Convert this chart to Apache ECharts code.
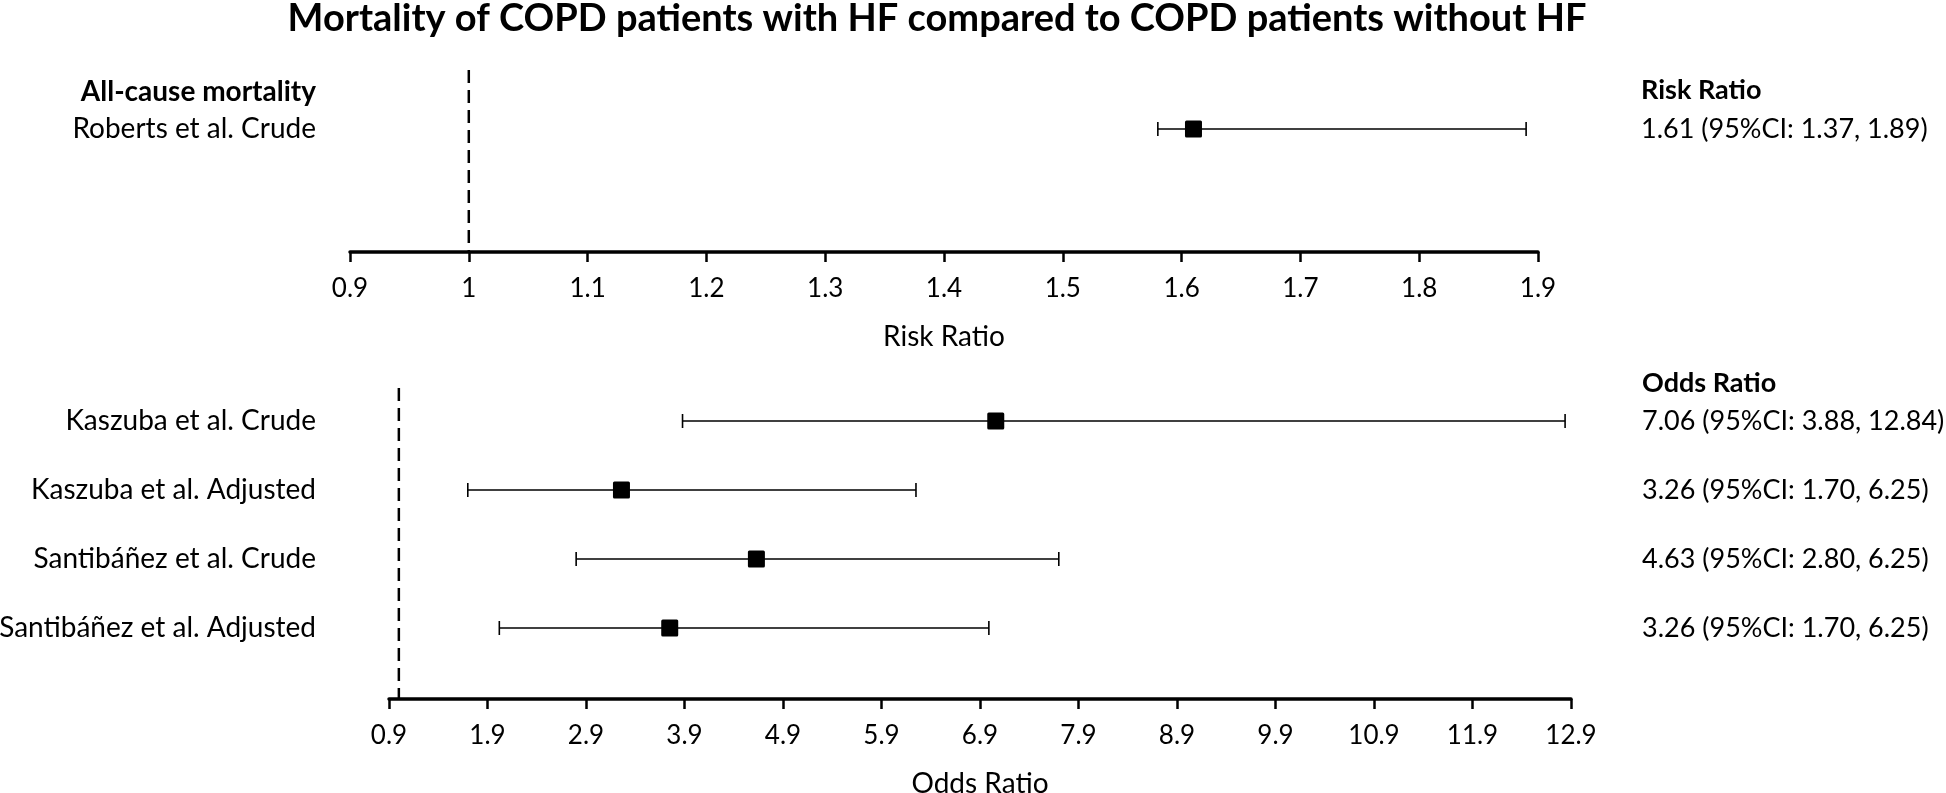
<!DOCTYPE html>
<html><head><meta charset="utf-8">
<script src="https://cdn.jsdelivr.net/npm/echarts@6/dist/echarts.min.js"></script>
<style>html,body{margin:0;padding:0;background:#fff}#c{width:1946px;height:793px}</style>
</head><body><div id="c"></div>
<script>
// ---------- data ----------
const titleText = 'Mortality of COPD patients with HF compared to COPD patients without HF';
const refLine = 1;

// Top panel (risk ratio)
const rrHeaderLeft = 'All-cause mortality';
const rrHeaderRight = 'Risk Ratio';
const rrStudies = ['Roberts et al. Crude'];
const rrEstimate = [1.61];
const rrLower = [1.58];
const rrUpper = [1.89];
const rrLabels = ['1.61 (95%CI: 1.37, 1.89)'];
const rrTicks = [0.9, 1, 1.1, 1.2, 1.3, 1.4, 1.5, 1.6, 1.7, 1.8, 1.9];
const rrAxisName = 'Risk Ratio';

// Bottom panel (odds ratio)
const orHeaderRight = 'Odds Ratio';
const orStudies = ['Kaszuba et al. Crude', 'Kaszuba et al. Adjusted', 'Santibáñez et al. Crude', 'Santibáñez et al. Adjusted'];
const orEstimate = [7.06, 3.26, 4.63, 3.75];
const orLower = [3.88, 1.70, 2.80, 2.02];
const orUpper = [12.84, 6.25, 7.70, 6.99];
const orLabels = ['7.06 (95%CI: 3.88, 12.84)', '3.26 (95%CI: 1.70, 6.25)', '4.63 (95%CI: 2.80, 6.25)', '3.26 (95%CI: 1.70, 6.25)'];
const orTicks = [0.9, 1.9, 2.9, 3.9, 4.9, 5.9, 6.9, 7.9, 8.9, 9.9, 10.9, 11.9, 12.9];
const orAxisName = 'Odds Ratio';

// ---------- layout ----------
const FONT = 'Lato';
const FS_ROW = 28, FS_VAL = 27, FS_TICK = 26, FS_NAME = 28;
const rowPx = 69;
const g0 = {left: 350, top: 70, width: 1188, height: 182, firstRow: 59};
const g1 = {left: 389, top: 388, width: 1182, height: 311, firstRow: 33};
const yMin0 = -g0.firstRow / rowPx, yMax0 = (g0.height - g0.firstRow) / rowPx;
const yMin1 = -g1.firstRow / rowPx, yMax1 = (g1.height - g1.firstRow) / rowPx;

function rows(est, lo, hi) { return est.map((e, i) => [e, lo[i], hi[i], i]); }

function renderForest(params, api) {
  const r = api.value(3);
  const pE = api.coord([api.value(0), r]);
  const pL = api.coord([api.value(1), r]);
  const pH = api.coord([api.value(2), r]);
  const cap = 7, h = 8.5;
  const st = {stroke: '#000', lineWidth: 1.6};
  return {type: 'group', children: [
    {type: 'line', shape: {x1: pL[0], y1: pL[1], x2: pH[0], y2: pH[1]}, style: st},
    {type: 'line', shape: {x1: pL[0], y1: pL[1] - cap, x2: pL[0], y2: pL[1] + cap}, style: st},
    {type: 'line', shape: {x1: pH[0], y1: pH[1] - cap, x2: pH[0], y2: pH[1] + cap}, style: st},
    {type: 'rect', shape: {x: pE[0] - h, y: pE[1] - h, width: 2 * h, height: 2 * h, r: 1.5}, style: {fill: '#000'}}
  ]};
}

function xAxisCfg(gi, min, max, ticks, name) {
  return {
    type: 'value', gridIndex: gi, min: min, max: max,
    splitLine: {show: false},
    axisLine: {show: true, onZero: false, lineStyle: {color: '#000', width: 3.5}},
    axisTick: {show: true, customValues: ticks, length: 10, lineStyle: {color: '#000', width: 2.5}},
    axisLabel: {customValues: ticks, margin: 24, fontSize: FS_TICK, color: '#000', fontFamily: FONT},
    name: name, nameLocation: 'middle', nameGap: 71,
    nameTextStyle: {fontSize: FS_NAME, color: '#000', fontFamily: FONT}
  };
}
function yAxisCfg(gi, min, max, pos, labels, margin, fs) {
  return {
    type: 'value', gridIndex: gi, min: min, max: max, inverse: true, position: pos,
    splitLine: {show: false}, axisLine: {show: false}, axisTick: {show: false},
    axisLabel: {
      customValues: labels.map((_, i) => i), margin: margin,
      fontSize: fs, color: '#000', fontFamily: FONT,
      formatter: v => labels[Math.round(v)] || ''
    }
  };
}

const headerStyle = {fontSize: 27, fontWeight: 'bold', fill: '#000', fontFamily: FONT, textVerticalAlign: 'middle'};

const option = {
  animation: false,
  backgroundColor: '#fff',
  graphic: [
    {type: 'text', x: 937, y: 19, style: {text: titleText, fontSize: 38, fontWeight: 'bold', fill: '#000', fontFamily: FONT, textAlign: 'center', textVerticalAlign: 'middle'}},
    {type: 'text', x: 316, y: 92, style: Object.assign({text: rrHeaderLeft, textAlign: 'right'}, headerStyle, {fontSize: 28})},
    {type: 'text', x: 1641, y: 90, style: Object.assign({text: rrHeaderRight, textAlign: 'left'}, headerStyle)},
    {type: 'text', x: 1642, y: 383, style: Object.assign({text: orHeaderRight, textAlign: 'left'}, headerStyle)}
  ],
  grid: [
    {left: g0.left, top: g0.top, width: g0.width, height: g0.height, outerBoundsMode: 'none', containLabel: false},
    {left: g1.left, top: g1.top, width: g1.width, height: g1.height, outerBoundsMode: 'none', containLabel: false}
  ],
  xAxis: [
    xAxisCfg(0, rrTicks[0], rrTicks[rrTicks.length - 1], rrTicks, rrAxisName),
    xAxisCfg(1, orTicks[0], orTicks[orTicks.length - 1], orTicks, orAxisName)
  ],
  yAxis: [
    yAxisCfg(0, yMin0, yMax0, 'left', rrStudies, g0.left - 316, FS_ROW),
    yAxisCfg(0, yMin0, yMax0, 'right', rrLabels, 1641 - (g0.left + g0.width), FS_VAL),
    yAxisCfg(1, yMin1, yMax1, 'left', orStudies, g1.left - 316, FS_ROW),
    yAxisCfg(1, yMin1, yMax1, 'right', orLabels, 1642 - (g1.left + g1.width), FS_VAL)
  ],
  series: [
    {type: 'line', xAxisIndex: 0, yAxisIndex: 0, data: [[refLine, yMin0], [refLine, yMax0]], symbol: 'none',
     lineStyle: {color: '#000', width: 2.5, type: [13, 7]}, silent: true},
    {type: 'line', xAxisIndex: 1, yAxisIndex: 2, data: [[refLine, yMin1], [refLine, yMax1]], symbol: 'none',
     lineStyle: {color: '#000', width: 2.5, type: [13, 7]}, silent: true},
    {type: 'custom', xAxisIndex: 0, yAxisIndex: 0, renderItem: renderForest, encode: {x: [0, 1, 2], y: 3},
     data: rows(rrEstimate, rrLower, rrUpper), clip: false},
    {type: 'custom', xAxisIndex: 1, yAxisIndex: 2, renderItem: renderForest, encode: {x: [0, 1, 2], y: 3},
     data: rows(orEstimate, orLower, orUpper), clip: false}
  ]
};
echarts.init(document.getElementById('c')).setOption(option);
</script>
</body></html>
